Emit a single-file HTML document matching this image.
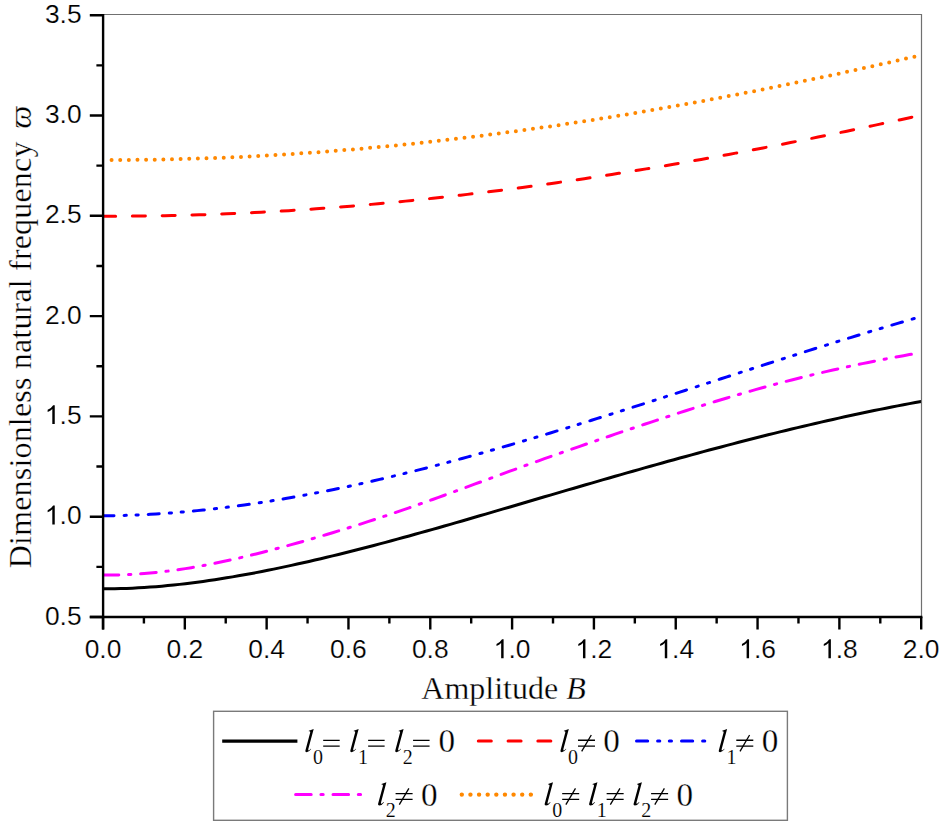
<!DOCTYPE html>
<html><head><meta charset="utf-8"><style>
html,body{margin:0;padding:0;background:#fff;width:944px;height:830px;overflow:hidden}
svg{display:block}
.s{font-family:"Liberation Sans",sans-serif}
.r{font-family:"Liberation Serif",serif}
text{stroke:#fff;stroke-width:0.3px}
.s text{stroke-width:0.2px}
</style></head><body>
<svg width="944" height="830" viewBox="0 0 944 830">
<defs>
<path id="ell" d="M4.7 -21.2 L9.6 -22.9 L4.2 -2.8 Q3.9 -1.5 4.5 -1.5 Q5.3 -1.7 6.7 -3.2 L7.1 -2.8 Q4.8 0.4 2.6 0.4 Q0.8 0.4 1.3 -1.4 L6.1 -19.3 Q6.4 -20.5 5.5 -20.6 L4.7 -20.6 Z" fill="#000"/>
<path id="one" d="M7.41 0.00 H9.85 V-18.89 H8.28 Q7.21 -16.65 2.74 -14.32 V-12.08 Q5.69 -13.30 7.41 -15.13 Z" fill="#000"/>
<clipPath id="pc"><rect x="102" y="10" width="819.5" height="612"/></clipPath>
<clipPath id="pcm"><rect x="102" y="10" width="814" height="612"/></clipPath>
<path id="eq" d="M0.2 -12.15H16.7V-10.85H0.2Z M0.2 -6.35H16.7V-5.05H0.2Z" fill="#000"/>
<g id="ne"><path d="M-0.1 -12.3H16.9V-11.0H-0.1Z M-0.1 -6.4H16.9V-5.1H-0.1Z" fill="#000"/><path d="M13.2 -16.9 L3.6 -0.6" stroke="#000" stroke-width="1.3" fill="none"/></g>
</defs>
<rect x="0" y="0" width="944" height="830" fill="#fff"/>
<g fill="none" stroke-width="3" clip-path="url(#pc)">
<path d="M103.00 159.96 L109.88 159.97 L116.75 159.97 L123.63 159.95 L130.50 159.92 L137.38 159.86 L144.25 159.79 L151.13 159.69 L158.01 159.58 L164.88 159.46 L171.76 159.31 L178.63 159.15 L185.51 158.97 L192.38 158.77 L199.26 158.56 L206.13 158.32 L213.01 158.07 L219.89 157.81 L226.76 157.52 L233.64 157.22 L240.51 156.90 L247.39 156.57 L254.26 156.22 L261.14 155.85 L268.02 155.47 L274.89 155.06 L281.77 154.65 L288.64 154.21 L295.52 153.76 L302.39 153.30 L309.27 152.82 L316.14 152.32 L323.02 151.80 L329.90 151.27 L336.77 150.73 L343.65 150.16 L350.52 149.59 L357.40 148.99 L364.27 148.39 L371.15 147.76 L378.03 147.12 L384.90 146.47 L391.78 145.80 L398.65 145.12 L405.53 144.42 L412.40 143.70 L419.28 142.97 L426.15 142.23 L433.03 141.47 L439.91 140.70 L446.78 139.91 L453.66 139.11 L460.53 138.29 L467.41 137.46 L474.28 136.62 L481.16 135.76 L488.04 134.88 L494.91 134.00 L501.79 133.10 L508.66 132.18 L515.54 131.25 L522.41 130.31 L529.29 129.36 L536.16 128.39 L543.04 127.40 L549.92 126.41 L556.79 125.40 L563.67 124.38 L570.54 123.34 L577.42 122.29 L584.29 121.23 L591.17 120.16 L598.05 119.07 L604.92 117.97 L611.80 116.86 L618.67 115.74 L625.55 114.60 L632.42 113.45 L639.30 112.29 L646.17 111.12 L653.05 109.93 L659.93 108.73 L666.80 107.52 L673.68 106.30 L680.55 105.07 L687.43 103.82 L694.30 102.56 L701.18 101.30 L708.06 100.02 L714.93 98.72 L721.81 97.42 L728.68 96.11 L735.56 94.78 L742.43 93.45 L749.31 92.10 L756.18 90.74 L763.06 89.37 L769.94 87.99 L776.81 86.60 L783.69 85.20 L790.56 83.79 L797.44 82.37 L804.31 80.93 L811.19 79.49 L818.07 78.04 L824.94 76.57 L831.82 75.10 L838.69 73.62 L845.57 72.12 L852.44 70.62 L859.32 69.11 L866.19 67.59 L873.07 66.05 L879.95 64.51 L886.82 62.96 L893.70 61.40 L900.57 59.83 L907.45 58.25 L914.32 56.67 L921.20 55.07" stroke="#ff8800" stroke-dasharray="0 8.63" stroke-dashoffset="0.05" stroke-linecap="round" stroke-width="4.0"/>
<path d="M103.00 216.15 L109.88 216.17 L116.75 216.17 L123.63 216.16 L130.50 216.13 L137.38 216.08 L144.25 216.01 L151.13 215.92 L158.01 215.82 L164.88 215.70 L171.76 215.56 L178.63 215.41 L185.51 215.23 L192.38 215.04 L199.26 214.84 L206.13 214.61 L213.01 214.37 L219.89 214.11 L226.76 213.84 L233.64 213.55 L240.51 213.24 L247.39 212.92 L254.26 212.58 L261.14 212.22 L268.02 211.85 L274.89 211.46 L281.77 211.05 L288.64 210.63 L295.52 210.19 L302.39 209.74 L309.27 209.27 L316.14 208.79 L323.02 208.29 L329.90 207.78 L336.77 207.24 L343.65 206.70 L350.52 206.14 L357.40 205.56 L364.27 204.97 L371.15 204.37 L378.03 203.75 L384.90 203.11 L391.78 202.46 L398.65 201.80 L405.53 201.12 L412.40 200.42 L419.28 199.71 L426.15 198.99 L433.03 198.26 L439.91 197.51 L446.78 196.74 L453.66 195.96 L460.53 195.17 L467.41 194.37 L474.28 193.55 L481.16 192.71 L488.04 191.87 L494.91 191.01 L501.79 190.13 L508.66 189.25 L515.54 188.35 L522.41 187.43 L529.29 186.51 L536.16 185.57 L543.04 184.62 L549.92 183.66 L556.79 182.68 L563.67 181.69 L570.54 180.69 L577.42 179.67 L584.29 178.65 L591.17 177.61 L598.05 176.56 L604.92 175.50 L611.80 174.42 L618.67 173.34 L625.55 172.24 L632.42 171.13 L639.30 170.01 L646.17 168.88 L653.05 167.73 L659.93 166.58 L666.80 165.41 L673.68 164.23 L680.55 163.04 L687.43 161.84 L694.30 160.63 L701.18 159.41 L708.06 158.18 L714.93 156.93 L721.81 155.68 L728.68 154.42 L735.56 153.14 L742.43 151.86 L749.31 150.56 L756.18 149.26 L763.06 147.94 L769.94 146.62 L776.81 145.28 L783.69 143.94 L790.56 142.58 L797.44 141.22 L804.31 139.85 L811.19 138.46 L818.07 137.07 L824.94 135.67 L831.82 134.26 L838.69 132.84 L845.57 131.41 L852.44 129.97 L859.32 128.52 L866.19 127.07 L873.07 125.60 L879.95 124.13 L886.82 122.65 L893.70 121.16 L900.57 119.66 L907.45 118.16 L914.32 116.64 L921.20 115.12" stroke="#ff0000" stroke-dashoffset="0.375" stroke-dasharray="13 16.775" stroke-linecap="round" stroke-width="3.0"/>
<path d="M103.00 515.85 L108.89 515.78 L114.77 515.67 L120.66 515.54 L126.55 515.36 L132.43 515.15 L138.32 514.91 L144.20 514.63 L150.09 514.31 L155.98 513.97 L161.86 513.59 L167.75 513.17 L173.64 512.73 L179.52 512.25 L185.41 511.74 L191.29 511.20 L197.18 510.63 L203.07 510.02 L208.95 509.39 L214.84 508.72 L220.73 508.03 L226.61 507.31 L232.50 506.56 L238.39 505.78 L244.27 504.97 L250.16 504.13 L256.04 503.27 L261.93 502.37 L267.82 501.46 L273.70 500.51 L279.59 499.54 L285.48 498.54 L291.36 497.52 L297.25 496.48 L303.14 495.40 L309.02 494.31 L314.91 493.19 L320.79 492.05 L326.68 490.88 L332.57 489.69 L338.45 488.48 L344.34 487.24 L350.23 485.99 L356.11 484.71 L362.00 483.41 L367.88 482.10 L373.77 480.76 L379.66 479.40 L385.54 478.02 L391.43 476.62 L397.32 475.21 L403.20 473.77 L409.09 472.32 L414.98 470.85 L420.86 469.36 L426.75 467.86 L432.63 466.34 L438.52 464.80 L444.41 463.24 L450.29 461.67 L456.18 460.09 L462.07 458.49 L467.95 456.88 L473.84 455.25 L479.73 453.61 L485.61 451.95 L491.50 450.28 L497.38 448.60 L503.27 446.91 L509.16 445.20 L515.04 443.49 L520.93 441.76 L526.82 440.02 L532.70 438.27 L538.59 436.51 L544.47 434.74 L550.36 432.96 L556.25 431.18 L562.13 429.38 L568.02 427.57 L573.91 425.76 L579.79 423.94 L585.68 422.11 L591.57 420.27 L597.45 418.43 L603.34 416.58 L609.22 414.72 L615.11 412.86 L621.00 410.99 L626.88 409.12 L632.77 407.25 L638.66 405.36 L644.54 403.48 L650.43 401.59 L656.32 399.70 L662.20 397.80 L668.09 395.90 L673.97 394.00 L679.86 392.10 L685.75 390.20 L691.63 388.29 L697.52 386.38 L703.41 384.48 L709.29 382.57 L715.18 380.66 L721.06 378.75 L726.95 376.84 L732.84 374.94 L738.72 373.03 L744.61 371.13 L750.50 369.23 L756.38 367.33 L762.27 365.44 L768.16 363.54 L774.04 361.65 L779.93 359.77 L785.81 357.89 L791.70 356.01 L797.59 354.14 L803.47 352.27 L809.36 350.41 L815.25 348.55 L821.13 346.70 L827.02 344.86 L832.91 343.02 L838.79 341.19 L844.68 339.37 L850.56 337.56 L856.45 335.75 L862.34 333.95 L868.22 332.16 L874.11 330.39 L880.00 328.62 L885.88 326.86 L891.77 325.11 L897.65 323.37 L903.54 321.64 L909.43 319.92 L915.31 318.21 L921.20 316.52" stroke="#0000ff" stroke-dasharray="11 10.1 2.2 9.7 2.2 10.06" stroke-linecap="round"/>
<path clip-path="url(#pcm)" d="M103.00 574.99 L108.89 575.04 L114.77 574.99 L120.66 574.87 L126.55 574.66 L132.43 574.37 L138.32 574.01 L144.20 573.58 L150.09 573.07 L155.98 572.49 L161.86 571.84 L167.75 571.13 L173.64 570.35 L179.52 569.51 L185.41 568.62 L191.29 567.66 L197.18 566.65 L203.07 565.58 L208.95 564.47 L214.84 563.30 L220.73 562.09 L226.61 560.83 L232.50 559.53 L238.39 558.19 L244.27 556.81 L250.16 555.39 L256.04 553.94 L261.93 552.46 L267.82 550.94 L273.70 549.40 L279.59 547.83 L285.48 546.24 L291.36 544.62 L297.25 542.99 L303.14 541.33 L309.02 539.65 L314.91 537.95 L320.79 536.23 L326.68 534.48 L332.57 532.72 L338.45 530.93 L344.34 529.12 L350.23 527.29 L356.11 525.44 L362.00 523.56 L367.88 521.67 L373.77 519.75 L379.66 517.81 L385.54 515.85 L391.43 513.87 L397.32 511.87 L403.20 509.85 L409.09 507.81 L414.98 505.75 L420.86 503.68 L426.75 501.59 L432.63 499.48 L438.52 497.36 L444.41 495.23 L450.29 493.08 L456.18 490.93 L462.07 488.77 L467.95 486.61 L473.84 484.44 L479.73 482.27 L485.61 480.10 L491.50 477.93 L497.38 475.76 L503.27 473.60 L509.16 471.44 L515.04 469.29 L520.93 467.15 L526.82 465.02 L532.70 462.90 L538.59 460.79 L544.47 458.70 L550.36 456.61 L556.25 454.53 L562.13 452.47 L568.02 450.41 L573.91 448.36 L579.79 446.32 L585.68 444.28 L591.57 442.26 L597.45 440.24 L603.34 438.22 L609.22 436.21 L615.11 434.20 L621.00 432.20 L626.88 430.21 L632.77 428.22 L638.66 426.24 L644.54 424.27 L650.43 422.31 L656.32 420.35 L662.20 418.41 L668.09 416.48 L673.97 414.56 L679.86 412.65 L685.75 410.76 L691.63 408.88 L697.52 407.02 L703.41 405.17 L709.29 403.34 L715.18 401.53 L721.06 399.74 L726.95 397.96 L732.84 396.21 L738.72 394.47 L744.61 392.76 L750.50 391.07 L756.38 389.40 L762.27 387.76 L768.16 386.14 L774.04 384.55 L779.93 382.98 L785.81 381.44 L791.70 379.93 L797.59 378.44 L803.47 376.97 L809.36 375.53 L815.25 374.12 L821.13 372.73 L827.02 371.36 L832.91 370.02 L838.79 368.70 L844.68 367.41 L850.56 366.13 L856.45 364.88 L862.34 363.65 L868.22 362.45 L874.11 361.26 L880.00 360.10 L885.88 358.96 L891.77 357.84 L897.65 356.74 L903.54 355.66 L909.43 354.60 L915.31 353.56 L921.20 352.54" stroke="#ff00ff" stroke-dashoffset="-0.2" stroke-dasharray="15.6 9.75 2.3 9.85" stroke-linecap="round"/>
<path d="M103.00 588.82 L108.89 588.79 L114.77 588.71 L120.66 588.57 L126.55 588.38 L132.43 588.14 L138.32 587.84 L144.20 587.49 L150.09 587.09 L155.98 586.64 L161.86 586.14 L167.75 585.60 L173.64 585.01 L179.52 584.38 L185.41 583.70 L191.29 582.98 L197.18 582.22 L203.07 581.42 L208.95 580.58 L214.84 579.70 L220.73 578.79 L226.61 577.84 L232.50 576.86 L238.39 575.84 L244.27 574.79 L250.16 573.71 L256.04 572.60 L261.93 571.46 L267.82 570.29 L273.70 569.10 L279.59 567.88 L285.48 566.63 L291.36 565.36 L297.25 564.07 L303.14 562.76 L309.02 561.43 L314.91 560.07 L320.79 558.69 L326.68 557.29 L332.57 555.88 L338.45 554.44 L344.34 552.98 L350.23 551.51 L356.11 550.02 L362.00 548.52 L367.88 546.99 L373.77 545.46 L379.66 543.90 L385.54 542.34 L391.43 540.76 L397.32 539.16 L403.20 537.56 L409.09 535.94 L414.98 534.31 L420.86 532.67 L426.75 531.02 L432.63 529.36 L438.52 527.69 L444.41 526.01 L450.29 524.33 L456.18 522.64 L462.07 520.94 L467.95 519.23 L473.84 517.53 L479.73 515.81 L485.61 514.09 L491.50 512.37 L497.38 510.65 L503.27 508.92 L509.16 507.19 L515.04 505.46 L520.93 503.73 L526.82 502.00 L532.70 500.27 L538.59 498.54 L544.47 496.81 L550.36 495.08 L556.25 493.36 L562.13 491.64 L568.02 489.92 L573.91 488.20 L579.79 486.49 L585.68 484.77 L591.57 483.07 L597.45 481.36 L603.34 479.66 L609.22 477.97 L615.11 476.28 L621.00 474.59 L626.88 472.91 L632.77 471.23 L638.66 469.57 L644.54 467.90 L650.43 466.24 L656.32 464.59 L662.20 462.95 L668.09 461.31 L673.97 459.68 L679.86 458.06 L685.75 456.44 L691.63 454.84 L697.52 453.24 L703.41 451.65 L709.29 450.07 L715.18 448.50 L721.06 446.94 L726.95 445.38 L732.84 443.84 L738.72 442.31 L744.61 440.79 L750.50 439.28 L756.38 437.78 L762.27 436.29 L768.16 434.82 L774.04 433.35 L779.93 431.90 L785.81 430.46 L791.70 429.04 L797.59 427.62 L803.47 426.22 L809.36 424.84 L815.25 423.46 L821.13 422.10 L827.02 420.76 L832.91 419.43 L838.79 418.12 L844.68 416.82 L850.56 415.53 L856.45 414.26 L862.34 413.01 L868.22 411.78 L874.11 410.56 L880.00 409.36 L885.88 408.17 L891.77 407.00 L897.65 405.85 L903.54 404.72 L909.43 403.61 L915.31 402.51 L921.20 401.43" stroke="#000"/>
</g>
<g stroke="#707070" stroke-width="1.2" fill="none">
<path d="M103 14.5H921.7M921.5 14V617"/>
</g>
<g stroke="#000" stroke-width="2.4" fill="none">
<path d="M103.1 14V629.6M89.8 617H922.4"/>
<path d="M103.00 617V629.6M184.82 617V629.6M266.64 617V629.6M348.46 617V629.6M430.28 617V629.6M512.10 617V629.6M593.92 617V629.6M675.74 617V629.6M757.56 617V629.6M839.38 617V629.6M921.20 617V629.6M143.91 617V623.5M225.73 617V623.5M307.55 617V623.5M389.37 617V623.5M471.19 617V623.5M553.01 617V623.5M634.83 617V623.5M716.65 617V623.5M798.47 617V623.5M880.29 617V623.5M89.8 617.00H103M89.8 516.70H103M89.8 416.40H103M89.8 316.10H103M89.8 215.80H103M89.8 115.50H103M89.8 15.20H103M96.4 566.85H103M96.4 466.55H103M96.4 366.25H103M96.4 265.95H103M96.4 165.65H103M96.4 65.35H103"/>
</g>
<g class="s" font-size="26.4" fill="#000">
<text x="84.65" y="658.20">0.0</text><text x="166.47" y="658.20">0.2</text><text x="248.29" y="658.20">0.4</text><text x="330.11" y="658.20">0.6</text><text x="411.93" y="658.20">0.8</text><use href="#one" x="493.75" y="658.20"/><text x="508.43" y="658.20">.0</text><use href="#one" x="575.57" y="658.20"/><text x="590.25" y="658.20">.2</text><use href="#one" x="657.39" y="658.20"/><text x="672.07" y="658.20">.4</text><use href="#one" x="739.21" y="658.20"/><text x="753.89" y="658.20">.6</text><use href="#one" x="821.03" y="658.20"/><text x="835.71" y="658.20">.8</text><text x="902.85" y="658.20">2.0</text>
<text x="44.90" y="624.84">0.5</text><use href="#one" x="44.90" y="524.45"/><text x="59.58" y="524.45">.0</text><use href="#one" x="44.90" y="424.06"/><text x="59.58" y="424.06">.5</text><text x="44.90" y="323.67">2.0</text><text x="44.90" y="223.28">2.5</text><text x="44.90" y="122.89">3.0</text><text x="44.90" y="22.50">3.5</text>
</g>
<text class="r" x="421.3" y="698.9" font-size="32" fill="#000">Amplitude <tspan font-style="italic">B</tspan></text>
<text class="r" transform="translate(31,568.2) rotate(-90)" font-size="32" fill="#000" letter-spacing="0.18">Dimensionless natural frequency</text>
<text class="r" transform="translate(31,128.6) rotate(-90)" font-size="32" font-style="italic" fill="#000">&#x3D6;</text>
<rect x="213.6" y="711.3" width="573.8" height="109" fill="none" stroke="#7a7a7a" stroke-width="1.4"/>
<g fill="none">
<path d="M222.2 741.1H297.4" stroke="#000" stroke-width="3.1"/>
<path d="M478.3 741.1H552" stroke="#ff0000" stroke-dasharray="13 16.775" stroke-linecap="round" stroke-width="3.0"/>
<path d="M636.5 741.1H712" stroke="#0000ff" stroke-width="3" stroke-dasharray="11.2 9.9 2.2 9.5 2.2 10" stroke-linecap="round"/>
<path d="M295.6 794.6H370" stroke="#ff00ff" stroke-width="3" stroke-dasharray="15.6 9.7 2.3 9.8" stroke-linecap="round"/>
<path d="M461.8 794.6H533" stroke="#ff8800" stroke-dasharray="0 8.63" stroke-linecap="round" stroke-width="4.4"/>
</g>
<g class="r" font-size="32" fill="#000">
<use href="#ell" x="304.10" y="751.90"/>
<text x="312.99" y="764.00" font-size="20" style="stroke-width:0.12px">0</text>
<use href="#eq" x="322.99" y="751.90"/>
<use href="#ell" x="349.04" y="751.90"/>
<text x="357.93" y="764.00" font-size="20" style="stroke-width:0.12px">1</text>
<use href="#eq" x="367.93" y="751.90"/>
<use href="#ell" x="393.98" y="751.90"/>
<text x="402.87" y="764.00" font-size="20" style="stroke-width:0.12px">2</text>
<use href="#eq" x="412.87" y="751.90"/>
<text x="438.61" y="752.20" font-size="33.2">0</text>
<use href="#ell" x="559.20" y="751.90"/>
<text x="568.09" y="764.00" font-size="20" style="stroke-width:0.12px">0</text>
<use href="#ne" x="578.09" y="751.90"/>
<text x="603.35" y="752.20" font-size="33.2">0</text>
<use href="#ell" x="717.50" y="751.90"/>
<text x="726.39" y="764.00" font-size="20" style="stroke-width:0.12px">1</text>
<use href="#ne" x="736.39" y="751.90"/>
<text x="761.65" y="752.20" font-size="33.2">0</text>
<use href="#ell" x="376.80" y="805.20"/>
<text x="385.69" y="817.30" font-size="20" style="stroke-width:0.12px">2</text>
<use href="#ne" x="395.69" y="805.20"/>
<text x="420.95" y="805.50" font-size="33.2">0</text>
<use href="#ell" x="543.40" y="805.20"/>
<text x="552.29" y="817.30" font-size="20" style="stroke-width:0.12px">0</text>
<use href="#ne" x="562.29" y="805.20"/>
<use href="#ell" x="587.85" y="805.20"/>
<text x="596.74" y="817.30" font-size="20" style="stroke-width:0.12px">1</text>
<use href="#ne" x="606.74" y="805.20"/>
<use href="#ell" x="632.31" y="805.20"/>
<text x="641.20" y="817.30" font-size="20" style="stroke-width:0.12px">2</text>
<use href="#ne" x="651.20" y="805.20"/>
<text x="676.46" y="805.50" font-size="33.2">0</text>
</g>
</svg>
</body></html>
